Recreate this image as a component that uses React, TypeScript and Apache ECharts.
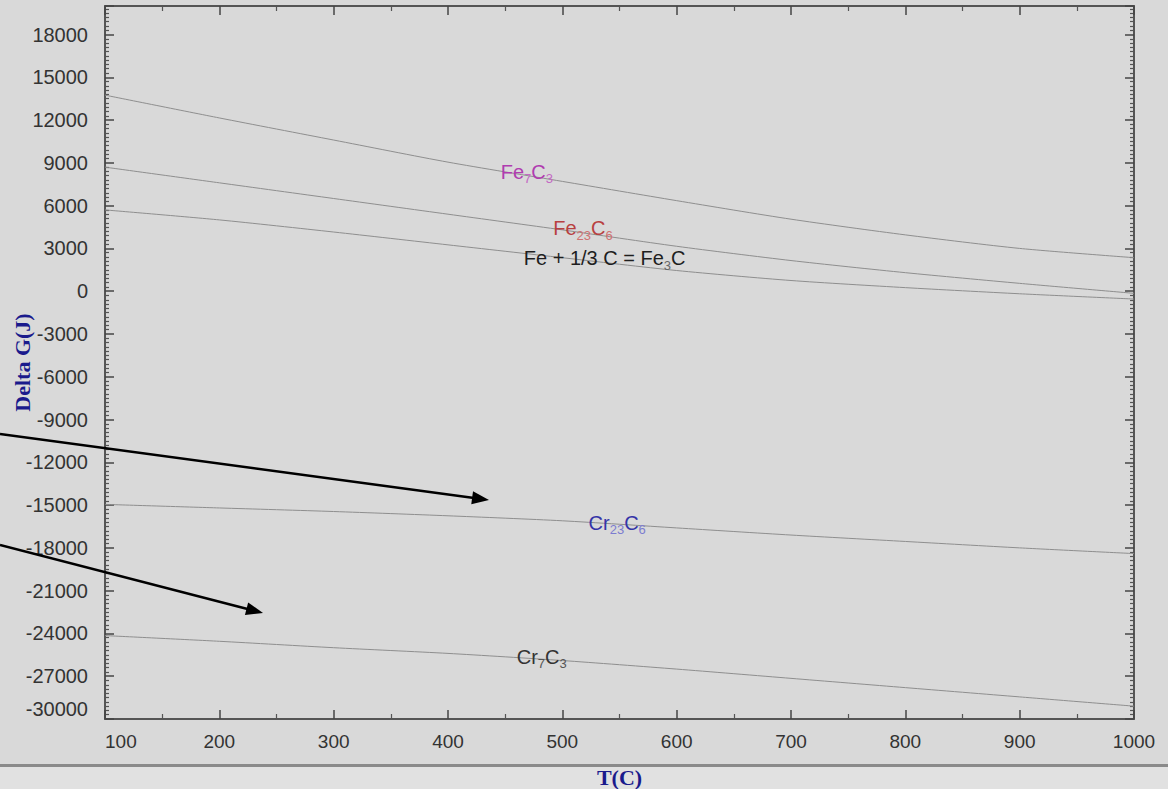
import React, { useEffect, useRef } from "react";
import * as echarts from "echarts";

const temps = [100, 200, 300, 400, 500, 600, 700, 800, 900, 1000];
const fe7c3 = [13750, 12150, 10600, 9050, 7700, 6350, 5050, 3950, 3000, 2350];
const fe23c6 = [8700, 7600, 6500, 5400, 4300, 3150, 2150, 1300, 550, -150];
const fe3c = [5700, 5000, 4150, 3250, 2350, 1450, 750, 250, -180, -550];
const cr23c6 = [-14950, -15200, -15450, -15750, -16100, -16600, -17100, -17550, -18000, -18400];
const cr7c3 = [-24150, -24550, -25000, -25400, -25900, -26500, -27150, -27800, -28450, -29100];

// label anchor points [T, dG]
const labelFe7c3 = [469, 8380];
const labelFe23c6 = [518, 4420];
const labelFe3c = [537, 2300];
const labelCr23c6 = [548, -16250];
const labelCr7c3 = [482, -25650];

const pairs = (ys: number[]) => temps.map((t, i) => [t, ys[i]]);

function arrowGraphic(x0: number, y0: number, x1: number, y1: number) {
  const dx = x1 - x0;
  const dy = y1 - y0;
  const len = Math.sqrt(dx * dx + dy * dy);
  const ux = dx / len;
  const uy = dy / len;
  const headLen = 17;
  const halfW = 6.5;
  const bx = x1 - headLen * ux;
  const by = y1 - headLen * uy;
  const nx = -uy;
  const ny = ux;
  return [
    {
      type: "line",
      shape: { x1: x0, y1: y0, x2: bx + 2 * ux, y2: by + 2 * uy },
      style: { stroke: "#000", lineWidth: 2.5 },
      z: 100,
    },
    {
      type: "polygon",
      shape: {
        points: [
          [x1, y1],
          [bx + halfW * nx, by + halfW * ny],
          [bx - halfW * nx, by - halfW * ny],
        ],
      },
      style: { fill: "#000" },
      z: 100,
    },
  ];
}

const FONT = "Liberation Sans, Arial, sans-serif";

function mkLabel(coord: number[], formatter: string, main: string, sub: string) {
  return {
    symbol: "circle",
    symbolSize: 0,
    silent: true,
    animation: false,
    data: [
      {
        coord,
        itemStyle: { color: "transparent" },
        label: {
          show: true,
          position: "inside",
          formatter,
          fontFamily: FONT,
          rich: {
            m: { fontSize: 20, color: main, lineHeight: 26, fontFamily: FONT },
            s: {
              fontSize: 13,
              color: sub,
              lineHeight: 12,
              padding: [14, 0, 0, 0],
              fontFamily: FONT,
            },
          },
        },
      },
    ],
  };
}

export default function App() {
  const ref = useRef<HTMLDivElement>(null);
  useEffect(() => {
    if (!ref.current) return;
    const chart = echarts.init(ref.current, null, { renderer: "svg" });
    const lineStyle = { color: "#8e8e8e", width: 1 };
    const axisLineStyle = { color: "#555", width: 2 };
    const tickStyle = { color: "#444", width: 1.5 };
    const minorStyle = { color: "#555", width: 1.2 };
    const titleStyle = {
      fontFamily: "Liberation Serif, Times New Roman, serif",
      fontWeight: "bold",
      fontSize: 22,
      color: "#1a1a8c",
    };
    const plain = (v: number) => String(v);
    const mkSeries = (name: string, ys: number[], markPoint: any) => ({
      name,
      type: "line",
      data: pairs(ys),
      smooth: 0.25,
      showSymbol: false,
      symbol: "none",
      lineStyle,
      xAxisIndex: 0,
      yAxisIndex: 0,
      markPoint,
      z: 3,
    });
    const option: any = {
      animation: false,
      backgroundColor: "#d9d9d9",
      grid: {
        left: 105,
        right: 34,
        top: 6,
        bottom: 70,
        containLabel: false,
        outerBoundsMode: "none",
      },
      xAxis: [
        {
          type: "value",
          position: "bottom",
          min: 100,
          max: 1000,
          interval: 100,
          name: "T(C)",
          nameLocation: "middle",
          nameGap: 47,
          nameMoveOverlap: false,
          nameTextStyle: titleStyle,
          axisLine: { show: true, onZero: false, lineStyle: axisLineStyle },
          axisTick: { show: true, inside: true, length: 9, lineStyle: tickStyle },
          minorTick: { show: true, splitNumber: 2, length: 5, lineStyle: minorStyle },
          splitLine: { show: false },
          minorSplitLine: { show: false },
          axisLabel: {
            fontSize: 19,
            color: "#333",
            margin: 13,
            fontFamily: FONT,
            formatter: plain,
            alignMinLabel: "left",
          },
        },
        {
          type: "value",
          position: "top",
          min: 100,
          max: 1000,
          interval: 100,
          axisLine: { show: true, onZero: false, lineStyle: axisLineStyle },
          axisTick: { show: true, inside: true, length: 9, lineStyle: tickStyle },
          minorTick: { show: true, splitNumber: 2, length: 5, lineStyle: minorStyle },
          splitLine: { show: false },
          axisLabel: { show: false },
        },
      ],
      yAxis: [
        {
          type: "value",
          position: "left",
          min: -30000,
          max: 20000,
          interval: 3000,
          name: "Delta G(J)",
          nameLocation: "middle",
          nameGap: 72,
          nameMoveOverlap: false,
          nameRotate: 90,
          nameTextStyle: titleStyle,
          axisLine: { show: true, onZero: false, lineStyle: axisLineStyle },
          axisTick: { show: true, inside: true, length: 9, lineStyle: tickStyle },
          minorTick: { show: true, splitNumber: 10, length: 4, lineStyle: minorStyle },
          splitLine: { show: false },
          minorSplitLine: { show: false },
          axisLabel: {
            fontSize: 20,
            color: "#333",
            margin: 17,
            fontFamily: FONT,
            formatter: plain,
            showMaxLabel: false,
            verticalAlignMinLabel: "bottom",
          },
        },
        {
          type: "value",
          position: "right",
          min: -30000,
          max: 20000,
          interval: 3000,
          axisLine: { show: true, onZero: false, lineStyle: axisLineStyle },
          axisTick: { show: true, inside: true, length: 9, lineStyle: tickStyle },
          minorTick: { show: true, splitNumber: 10, length: 4, lineStyle: minorStyle },
          splitLine: { show: false },
          axisLabel: { show: false },
        },
      ],
      series: [
        mkSeries("Fe7C3", fe7c3, mkLabel(labelFe7c3, "{m|Fe}{s|7}{m|C}{s|3}", "#b03cb0", "#c468c4")),
        mkSeries("Fe23C6", fe23c6, mkLabel(labelFe23c6, "{m|Fe}{s|23}{m|C}{s|6}", "#b84040", "#d07070")),
        mkSeries("Fe3C", fe3c, mkLabel(labelFe3c, "{m|Fe + 1/3 C = Fe}{s|3}{m|C}", "#1e1e1e", "#666")),
        mkSeries("Cr23C6", cr23c6, mkLabel(labelCr23c6, "{m|Cr}{s|23}{m|C}{s|6}", "#3434a8", "#7c7cd0")),
        mkSeries("Cr7C3", cr7c3, mkLabel(labelCr7c3, "{m|Cr}{s|7}{m|C}{s|3}", "#333", "#555")),
      ],
      graphic: [
        {
          type: "rect",
          shape: { x: 0, y: 766, width: 1168, height: 23 },
          style: { fill: "#e1e1e1" },
          z: -1,
          silent: true,
        },
        {
          type: "line",
          shape: { x1: 0, y1: 765.5, x2: 1168, y2: 765.5 },
          style: { stroke: "#8a8a8a", lineWidth: 3 },
          silent: true,
        },
        ...arrowGraphic(0, 434, 489, 500),
        ...arrowGraphic(0, 545, 263, 613),
      ],
    };
    chart.setOption(option);
    return () => chart.dispose();
  }, []);
  return (
    <div
      ref={ref}
      style={{ position: "absolute", left: 0, top: 0, width: 1168, height: 789 }}
    />
  );
}
